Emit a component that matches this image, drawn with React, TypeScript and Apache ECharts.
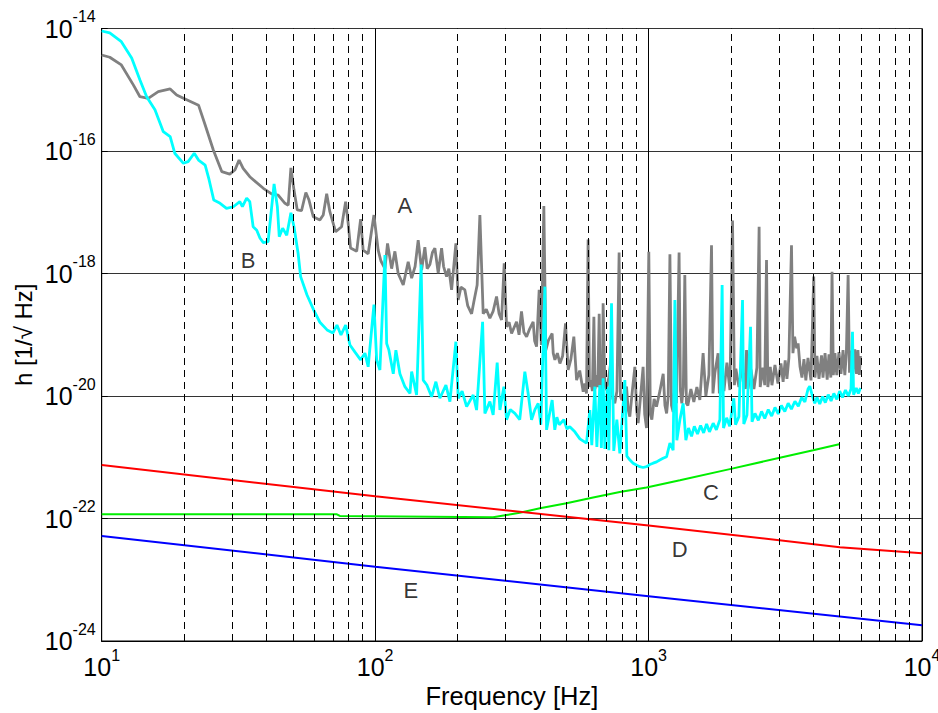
import React, { useEffect, useRef } from "react";
import * as echarts from "echarts";

// Curve A (gray): measured strain noise spectrum, [frequency Hz, h 1/sqrt(Hz)]
const curveA: [number, number][] = [
  [10, 3.69e-15], [10.7, 3.39e-15], [11.8, 2.54e-15], [13.05, 1.2e-15], [13.8, 7.7e-16],
  [14.8, 7.25e-16], [16.1, 9.3e-16], [17.8, 1.03e-15], [18.8, 8.2e-16], [19.9, 7.25e-16],
  [22.6, 5.6e-16], [23.9, 2.66e-16], [25.6, 1.04e-16], [27.5, 4.6e-17], [29.4, 4.2e-17],
  [30.7, 4.9e-17], [31.8, 7.1e-17], [32.9, 5.2e-17], [34.8, 3.8e-17], [39.0, 2.46e-17],
  [41.8, 2.0e-17], [44.2, 1.9e-17], [46.8, 1.4e-17], [48.1, 1.3e-17], [49.2, 5.3e-17],
  [50.5, 2.3e-17], [51.9, 1.09e-17], [53.8, 1.06e-17], [55.8, 2.1e-17], [57.3, 1.58e-17],
  [59.4, 8.45e-18], [62.8, 7.5e-18], [64.6, 9.0e-18], [66.5, 2.0e-17], [68.3, 1.02e-17],
  [71.7, 4.8e-18], [75.4, 5.8e-18], [78.0, 1.49e-17], [79.7, 6.6e-18], [81.3, 2.6e-18],
  [85.6, 2.3e-18], [88.5, 7.7e-18], [90.4, 2.4e-18], [94.3, 2.1e-18], [99, 9.0e-18],
  [102.6, 2.4e-18], [105, 1.6e-18], [108.6, 1.2e-18], [111, 3.1e-18], [114.9, 1.2e-18],
  [118.1, 2.3e-18], [121.4, 1.0e-18], [126.7, 6.5e-19], [132.1, 1.56e-18], [136, 8.4e-19],
  [140, 1.3e-18], [143.7, 3.5e-18], [147.9, 1.14e-18], [152, 2.7e-18], [155, 1.2e-18],
  [158.6, 1.4e-18], [162, 2.2e-18], [165.4, 2.6e-18], [170.1, 1.02e-18], [175, 2.6e-18],
  [178, 1.3e-18], [182.5, 8.9e-19], [186, 1.2e-18], [190.4, 5.4e-19], [197.4, 3.1e-18],
  [201.3, 3.7e-19], [206, 6.0e-19], [212.9, 5.4e-19], [218, 3.0e-19], [225.3, 2.2e-19],
  [230, 3.6e-19], [236.1, 6.5e-19], [241.6, 9.0e-18], [248.4, 2.2e-19], [255, 2.6e-19],
  [262.8, 1.86e-19], [270, 2.4e-19], [278, 4.2e-19], [284, 2.2e-19], [290, 1.74e-19],
  [296.5, 1.47e-18], [302.5, 1.35e-19], [309, 1.6e-19], [315.5, 1.05e-19], [322, 1.3e-19],
  [329, 1.63e-19], [336, 1.0e-19], [343, 2.4e-19], [350, 1.1e-19], [358, 9.3e-20],
  [366, 1.2e-19], [378.4, 1.63e-19], [383, 8.0e-20], [389.4, 6.4e-20], [398, 5.4e-19],
  [405.5, 6.8e-20], [414, 1.26e-17], [421, 5.6e-20], [430, 8.0e-20], [444, 1.05e-19],
  [448, 5.0e-20], [454.4, 3.9e-20], [464, 5.0e-20], [474, 3.4e-20], [485, 4.5e-20],
  [497, 1.54e-19], [508, 2.66e-20], [520, 4.0e-20], [533, 9.3e-20], [545.5, 1.82e-20],
  [560, 2.6e-20], [576.7, 1.17e-20], [585, 1.6e-20], [593, 1.1e-20], [601, 3.6e-18],
  [608, 1.4e-20], [615, 1.82e-20], [623, 1.2e-20], [631, 1.97e-19], [637, 1.3e-20],
  [644, 2.2e-20], [652, 1.4e-20], [659.8, 2.2e-19], [666, 1.2e-20], [672, 3.9e-20],
  [677, 1.3e-20], [682, 3.26e-19], [692, 1.5e-20], [702, 1.25e-20], [715, 2.0e-20],
  [727.8, 3.6e-20], [740, 9.0e-21], [752.6, 7.6e-21], [766, 1.2e-20], [780.4, 2.2e-18],
  [789, 1.0e-20], [798, 8.6e-21], [814, 1.1e-20], [830.7, 1.42e-20], [842, 6.0e-21],
  [854, 4.6e-21], [872, 1.2e-20], [891, 3.0e-20], [904, 6.0e-21], [916, 3.6e-21],
  [935, 1.0e-20], [955, 3.0e-20], [968, 5.0e-21], [983, 3.0e-21], [1002, 2.27e-18],
  [1015, 5.0e-21], [1028, 4.1e-21], [1048, 9.0e-21], [1069, 6.7e-21], [1100, 1.2e-20],
  [1131, 2.3e-20], [1148, 7.0e-21], [1164, 5.2e-21], [1180, 1.0e-20], [1197, 2.06e-18],
  [1213, 7.0e-21], [1230, 5.5e-21], [1248, 1.5e-20], [1265, 7.6e-21], [1293, 2.2e-18],
  [1308, 1.2e-20], [1323, 7.6e-21], [1340, 1.4e-20], [1357, 9.45e-19], [1375, 7.6e-21],
  [1392, 7.0e-21], [1428, 1.3e-20], [1464, 8.0e-21], [1502, 1.4e-20], [1540, 8.6e-21],
  [1583, 5.0e-20], [1620, 1.0e-20], [1662, 2.2e-20], [1699, 2.9e-18], [1720, 1.1e-20],
  [1748, 2.4e-20], [1796, 5.0e-20], [1815, 1.1e-20], [1839, 2.5e-20], [1886, 1.2e-20],
  [1934, 3.5e-20], [1984, 1.25e-20], [2028, 7.3e-18], [2060, 1.5e-20], [2086, 2.8e-20],
  [2140, 1.4e-20], [2195, 2.9e-20], [2251, 1.3e-20], [2282, 5.6e-20], [2309, 1.3e-20],
  [2368, 2.7e-20], [2428, 1.3e-20], [2490, 2.9e-20], [2537, 5.8e-18], [2560, 1.4e-20],
  [2620, 2.9e-20], [2660, 1.5e-20], [2700, 1.66e-18], [2730, 1.4e-20], [2787, 3.0e-20],
  [2826, 1.5e-20], [2899, 3.2e-20], [2973, 1.6e-20], [3049, 3.4e-20], [3105, 1.7e-20],
  [3160, 3.8e-20], [3207, 1.9e-20], [3260, 4.2e-20], [3332, 2.9e-18], [3373, 5.0e-20],
  [3420, 9.3e-20], [3480, 6.0e-20], [3523, 7.2e-20], [3580, 3.0e-20], [3639, 2.0e-20],
  [3700, 4.0e-20], [3760, 1.8e-20], [3828, 4.2e-20], [3926, 1.8e-20], [4018, 8.9e-19],
  [4060, 2.0e-20], [4129, 4.5e-20], [4200, 1.9e-20], [4290, 4.6e-20], [4345, 2.0e-20],
  [4420, 5.0e-20], [4500, 1.85e-20], [4569, 4.8e-20], [4640, 2.0e-20], [4688, 1.07e-18],
  [4740, 2.2e-20], [4805, 5.0e-20], [4880, 2.2e-20], [4970, 5.2e-20], [5055, 2.3e-20],
  [5143, 5.6e-20], [5221, 2.2e-20], [5290, 5.0e-20], [5368, 9.45e-19], [5430, 2.4e-20],
  [5500, 5.5e-20], [5592, 2.4e-20], [5680, 5.8e-20], [5761, 2.3e-20], [5830, 5.6e-20],
  [5900, 2.2e-20], [5957, 4.5e-20],
];

// Curve B (cyan)
const curveB: [number, number][] = [
  [10, 9.1e-15], [10.7, 8.5e-15], [11.8, 6.1e-15], [12.87, 3.3e-15], [13.8, 1.44e-15],
  [14.6, 7.7e-16], [15.66, 4.7e-16], [16.8, 2.07e-16], [17.8, 1.71e-16], [18.5, 9.2e-17],
  [19.9, 6.3e-17], [20.7, 6.7e-17], [21.8, 9.2e-17], [22.6, 7.1e-17], [23.9, 5.9e-17],
  [24.7, 3.4e-17], [25.7, 1.58e-17], [27.1, 1.4e-17], [28.6, 1.16e-17], [30.3, 1.23e-17],
  [32.0, 1.49e-17], [32.7, 1.23e-17], [33.9, 1.7e-17], [34.8, 1.49e-17], [35.8, 5.8e-18],
  [36.9, 5.1e-18], [37.9, 3.8e-18], [39.0, 3.2e-18], [40.6, 3.3e-18], [42.7, 2.9e-17],
  [43.9, 1.23e-17], [44.6, 4.0e-18], [45.9, 5.5e-18], [47.5, 4.2e-18], [49.2, 9.8e-18],
  [50.5, 5.8e-18], [52.3, 2.1e-18], [53.4, 8.9e-19], [56.3, 4.5e-19], [59.7, 2.5e-19],
  [62.8, 1.6e-19], [66.7, 1.2e-19], [70.1, 1.07e-19], [72.5, 1.44e-19], [75.0, 9.9e-20],
  [78, 1.44e-19], [80.9, 6.8e-20], [84.4, 5.2e-20], [88.5, 3.9e-20], [91.8, 5.0e-20],
  [94.3, 3.0e-20], [99, 3.1e-19], [101.3, 3.9e-20], [104.1, 2.66e-20], [108.6, 2.0e-18],
  [110.2, 7.2e-20], [112.3, 5.6e-20], [116.5, 2.3e-20], [119.1, 5.6e-20], [123.2, 2.3e-20],
  [128.5, 1.42e-20], [134.1, 1.1e-20], [136, 2.5e-20], [141.8, 1.04e-20], [147.3, 1.4e-18],
  [149.9, 1.82e-20], [154.6, 1.51e-20], [160.9, 9.7e-21], [166.8, 1.71e-20], [172.5, 9.2e-21],
  [181.5, 1.51e-20], [187.7, 8.1e-21], [197.4, 7.7e-20], [201.3, 9.2e-21], [208, 1.2e-20],
  [216.1, 6.7e-21], [228.4, 1.04e-20], [235, 5.9e-21], [247.2, 1.63e-19], [252, 5.2e-21],
  [262.8, 8.1e-21], [270.2, 4.9e-21], [279.5, 3.5e-20], [286, 5.9e-21], [295.7, 1.42e-20],
  [302.5, 4.1e-21], [312, 6.0e-21], [324.4, 5.2e-21], [338, 4.1e-21], [352.8, 2.5e-20],
  [362.8, 1.1e-20], [373.3, 4.1e-21], [384, 6.0e-21], [394.8, 7.6e-21], [403.6, 3.4e-21],
  [417.6, 6.1e-19], [423.6, 2.8e-21], [444, 8.6e-21], [454, 2.8e-21], [462, 4.5e-21],
  [471, 3.4e-21], [490, 4.1e-21], [503, 2.9e-21], [515, 3.16e-21], [537.6, 2.6e-21],
  [560.8, 2.0e-21], [593, 1.7e-21], [610, 5.9e-21], [620, 1.58e-21], [636, 1.42e-20],
  [647, 1.47e-21], [663.5, 1.51e-20], [672, 1.42e-21], [682, 1.95e-20], [692, 1.36e-21],
  [705.6, 1.42e-20], [715.7, 1.3e-21], [732, 3.26e-19], [746, 1.27e-21], [765.6, 4.1e-21],
  [785, 1.16e-21], [819, 1.82e-20], [833, 1.04e-21], [855, 9.0e-22], [878, 8.0e-22],
  [905, 7.4e-22], [929, 7.0e-22], [955, 6.8e-22], [983, 7.0e-22], [1010, 7.6e-22],
  [1039, 8.0e-22], [1070, 8.4e-22], [1099, 9.0e-22], [1130, 9.6e-22], [1164, 1.02e-21],
  [1197, 1.7e-21], [1230, 1.3e-21], [1248, 3.7e-19], [1269, 1.9e-21], [1302, 4.1e-21],
  [1338, 7.6e-21], [1369, 1.9e-21], [1400, 3.0e-21], [1436, 2.2e-21], [1470, 3.2e-21],
  [1510, 2.4e-21], [1550, 3.3e-21], [1590, 2.5e-21], [1630, 3.5e-21], [1670, 2.6e-21],
  [1723, 3.6e-21], [1770, 2.8e-21], [1823, 4.1e-21], [1858, 6.5e-19], [1880, 3.0e-21],
  [1930, 4.4e-21], [1980, 3.2e-21], [2050, 9.2e-21], [2080, 3.4e-21], [2140, 4.6e-21],
  [2206, 3.7e-19], [2230, 3.5e-21], [2290, 4.9e-21], [2360, 1.35e-19], [2390, 3.8e-21],
  [2450, 5.2e-21], [2520, 4.0e-21], [2590, 5.6e-21], [2660, 4.3e-21], [2740, 6.0e-21],
  [2820, 4.7e-21], [2900, 6.5e-21], [2980, 5.1e-21], [3060, 7.0e-21], [3150, 5.6e-21],
  [3240, 7.6e-21], [3330, 6.1e-21], [3430, 8.2e-21], [3530, 6.8e-21], [3630, 9.5e-21],
  [3730, 8.0e-21], [3830, 1.3e-20], [3887, 1.45e-20], [3950, 1.1e-20], [4054, 7.6e-21],
  [4130, 9.5e-21], [4227, 7.4e-21], [4330, 9.8e-21], [4430, 7.8e-21], [4540, 1.05e-20],
  [4650, 8.3e-21], [4760, 1.1e-20], [4880, 8.8e-21], [5000, 1.2e-20], [5120, 9.5e-21],
  [5250, 1.25e-20], [5380, 1.0e-20], [5500, 1.3e-20], [5569, 1.12e-19], [5620, 1.05e-20],
  [5750, 1.35e-20], [5850, 1.1e-20], [5957, 1.35e-20],
];

// Curve C (green)
const curveC: [number, number][] = [
  [10, 1.17e-22], [72.5, 1.17e-22], [74.3, 1.1e-22], [270, 1.045e-22], [302.5, 1.14e-22],
  [338, 1.24e-22], [400.5, 1.47e-22], [501, 1.77e-22], [627, 2.2e-22], [785, 2.7e-22],
  [983, 3.2e-22], [1302, 4.2e-22], [1982, 6.4e-22], [3020, 9.8e-22], [3998, 1.3e-21],
  [4977, 1.63e-21],
];

// Curve D (red)
const curveD: [number, number][] = [
  [10, 7.5e-22], [100, 2.3e-22], [1000, 7.7e-23], [5005, 3.4e-23], [10000, 2.7e-23],
];

// Curve E (blue)
const curveE: [number, number][] = [
  [10, 5.2e-23], [100, 1.63e-23], [1000, 5.4e-24], [10000, 1.8e-24],
];

// axis extent corners: lower-left [f, h] and upper-right [f, h]
const axisCorners: [number, number][] = [
  [10, 1e-24],
  [10000, 1e-14],
];

const curveLabels = [
  { name: "A", value: [128.5, 1.3e-17] },
  { name: "B", value: [34.3, 1.66e-18] },
  { name: "C", value: [1690, 2.7e-22] },
  { name: "D", value: [1300, 3.06e-23] },
  { name: "E", value: [135, 6.6e-24] },
];

const dashedFreqs = [
  20, 30, 40, 50, 60, 70, 80, 90,
  200, 300, 400, 500, 600, 700, 800, 900,
  2000, 3000, 4000, 5000, 6000, 7000, 8000, 9000,
];

const FONT = "'Liberation Sans', Arial, Helvetica, sans-serif";

export default function App() {
  const ref = useRef<HTMLDivElement>(null);
  useEffect(() => {
    if (!ref.current) return;
    const chart = echarts.init(ref.current, null, { renderer: "svg" });
    const supLabel = (v: number) => `{b|10}{s|${Math.round(Math.log10(v))}}`;
    const rich = {
      b: { fontSize: 25, fontFamily: FONT, color: "#000", lineHeight: 40, verticalAlign: "middle" },
      s: { fontSize: 16, fontFamily: FONT, color: "#000", lineHeight: 18, verticalAlign: "top" },
    };
    const lineSeries = (name: string, data: [number, number][], color: string, width: number) => ({
      type: "line",
      name,
      data,
      showSymbol: false,
      symbol: "none",
      silent: true,
      lineStyle: { color, width },
      emphasis: { disabled: true },
      z: 3,
    });
    chart.setOption({
      animation: false,
      backgroundColor: "#ffffff",
      grid: {
        left: 101.7,
        right: 16,
        top: 28.5,
        bottom: 72,
        show: true,
        borderColor: "#000",
        borderWidth: 1,
        backgroundColor: "transparent",
        containLabel: false,
        outerBoundsMode: "none",
      },
      xAxis: {
        type: "log",
        logBase: 10,
        min: 10,
        max: 10000,
        name: "Frequency [Hz]",
        nameLocation: "middle",
        nameGap: 42,
        nameMoveOverlap: false,
        nameTextStyle: { fontFamily: FONT, fontSize: 25.5, color: "#000", verticalAlign: "top" },
        axisLine: { show: true, lineStyle: { color: "#000", width: 1 } },
        axisTick: { show: true, inside: true, length: 6, lineStyle: { color: "#000" } },
        axisLabel: {
          formatter: supLabel, margin: 6, rich, color: "#000",
          showMinLabel: true, showMaxLabel: true, hideOverlap: false,
        },
        splitLine: { show: true, lineStyle: { color: "#000", width: 1 } },
        minorTick: { show: false },
        minorSplitLine: { show: false },
      },
      yAxis: {
        type: "log",
        logBase: 100,
        // extent taken from the data (axisCorners): 1e-24 .. 1e-14
        name: "h [1/√ Hz]",
        nameLocation: "middle",
        nameGap: 66,
        nameRotate: 90,
        nameMoveOverlap: false,
        nameTextStyle: { fontFamily: FONT, fontSize: 24, color: "#000" },
        axisLine: { show: true, lineStyle: { color: "#000", width: 1 } },
        axisTick: { show: true, inside: true, length: 6, lineStyle: { color: "#000" } },
        axisLabel: {
          formatter: supLabel, margin: 6, rich, color: "#000",
          showMinLabel: true, showMaxLabel: true, hideOverlap: false,
        },
        splitLine: { show: true, lineStyle: { color: "#333", width: 1 } },
        minorTick: { show: false },
        minorSplitLine: { show: false },
      },
      series: [
        {
          type: "line",
          name: "grid",
          data: axisCorners,
          showSymbol: false,
          symbol: "none",
          silent: true,
          lineStyle: { width: 0, opacity: 0 },
          z: 1,
          markLine: {
            silent: true,
            symbol: ["none", "none"],
            label: { show: false },
            animation: false,
            lineStyle: { color: "#000", width: 1, type: [7, 5] },
            emphasis: { disabled: true },
            data: dashedFreqs.map((f) => ({ xAxis: f })),
          },
        },
        lineSeries("A", curveA, "#808080", 2.8),
        lineSeries("B", curveB, "#00ffff", 2.8),
        lineSeries("C", curveC, "#00ee00", 2),
        lineSeries("D", curveD, "#ff0000", 2),
        lineSeries("E", curveE, "#0000ff", 2),
        {
          type: "scatter",
          name: "labels",
          data: curveLabels,
          symbolSize: 1,
          silent: true,
          itemStyle: { color: "transparent" },
          label: {
            show: true,
            position: "inside",
            formatter: "{b}",
            fontFamily: FONT,
            fontSize: 22,
            color: "#000",
          },
          z: 5,
        },
      ],
    });
    return () => chart.dispose();
  }, []);
  return (
    <div
      ref={ref}
      style={{ position: "absolute", left: 0, top: 0, width: 938, height: 713, background: "#fff" }}
    />
  );
}
